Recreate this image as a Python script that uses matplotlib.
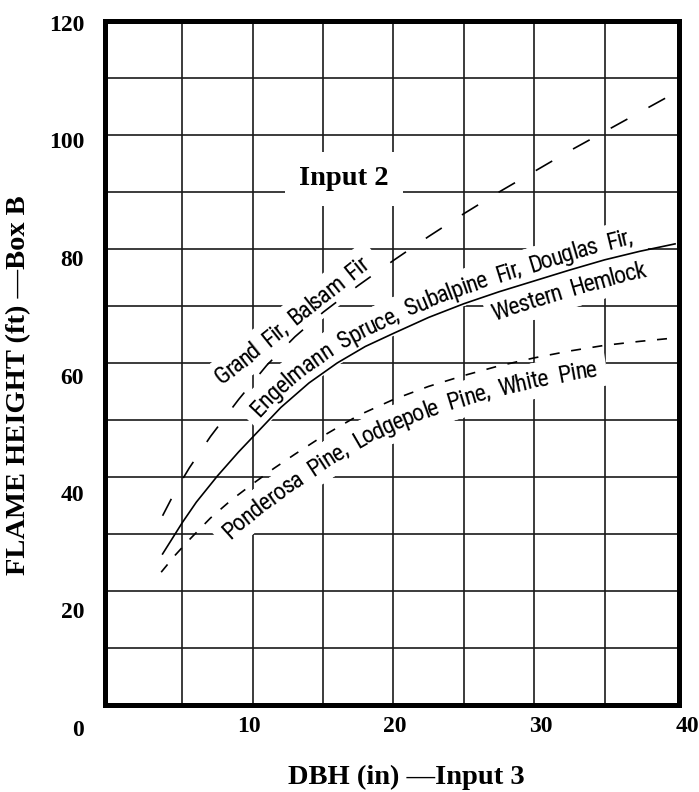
import numpy as np
import matplotlib
matplotlib.use("Agg")
import matplotlib.pyplot as plt
from matplotlib import font_manager as fm
from matplotlib.font_manager import FontProperties
from matplotlib.transforms import ScaledTranslation

# ---------------- data ----------------
dbh_grand = [3.6, 4.5, 5.5, 7, 9, 11, 13, 15, 17.5, 20, 22.5, 25, 27.5, 30, 32.5, 35, 37.5, 40]
flame_grand = [33.2, 37.5, 41.6, 47.1, 53.6, 59.6, 64.6, 68.9, 73.6, 78.0, 82.2, 86.2, 90.0, 93.6, 97.2, 100.6, 104.0, 107.4]

dbh_engel = [3.6, 5, 6, 7.5, 9, 10, 12, 14, 16, 18, 20, 22.5, 25, 27.5, 30, 32.5, 35, 37.5, 40]
flame_engel = [26.5, 32.0, 35.6, 40.2, 44.4, 47.0, 52.2, 56.5, 60.0, 62.9, 65.2, 68.0, 70.4, 72.5, 74.4, 76.3, 78.1, 79.6, 80.9]

dbh_pond = [3.5, 4.5, 5.5, 7, 8.5, 10, 11.5, 13, 15, 17.5, 20, 22.5, 25, 27.5, 30, 32.5, 35, 37.5, 40]
flame_pond = [23.3, 26.3, 29.0, 32.8, 36.0, 38.8, 41.5, 44.0, 47.2, 50.8, 53.6, 55.9, 57.8, 59.5, 60.9, 62.1, 63.1, 63.8, 64.4]

label_grand = "Grand Fir, Balsam Fir"
label_engel = "Engelmann Spruce, Subalpine Fir, Douglas Fir,"
label_engel2 = "Western Hemlock"
label_pond = "Ponderosa Pine, Lodgepole Pine, White Pine"

x_ticks = [10, 20, 30, 40]
x_tick_labels = ["10", "20", "30", "40"]
y_ticks = [0, 20, 40, 60, 80, 100, 120]
y_tick_labels = ["0", "20", "40", "60", "80", "100", "120"]
grid_x = [5, 10, 15, 20, 25, 30, 35]
grid_y = [10, 20, 30, 40, 50, 60, 70, 80, 90, 100, 110]

x_label = "DBH (in) \u2014Input 3"
y_label = "FLAME HEIGHT (ft) \u2014Box B"
box_label = "Input 2"

# ---------------- fonts ----------------
plt.rcParams["lines.scale_dashes"] = False
serif_tick = FontProperties(family=["Liberation Serif", "DejaVu Serif"], weight="bold", size=17)
serif_lab = FontProperties(family=["Liberation Serif", "DejaVu Serif"], weight="bold", size=20.5)
serif_box = FontProperties(family=["Liberation Serif", "DejaVu Serif"], weight="bold", size=20.5)


def _w(f):
    w = f.weight
    if isinstance(w, str):
        w = {"normal": 400, "regular": 400, "book": 400, "medium": 500, "semibold": 600,
             "demibold": 600, "bold": 700, "light": 300}.get(w.lower(), 400)
    return w


def pick_condensed():
    lst = [f for f in fm.fontManager.ttflist if f.style == "normal"]
    pref = ["Roboto Condensed", "Liberation Sans Narrow", "Open Sans Condensed",
            "DejaVu Sans Condensed", "Noto Sans Condensed"]
    for name in pref:
        c = [f for f in lst if f.name == name and 380 <= _w(f) <= 650]
        if c:
            c.sort(key=lambda f: abs(_w(f) - 420))
            return c[0].fname
    c = [f for f in lst if str(f.stretch) in ("condensed", "semi-condensed", "extra-condensed")
         and 380 <= _w(f) <= 650]
    if c:
        c.sort(key=lambda f: abs(_w(f) - 420))
        return c[0].fname
    return fm.findfont(FontProperties(family="DejaVu Sans"))


cond_path = pick_condensed()
CURVE_FS = 17.5
cond_fp = FontProperties(fname=cond_path, size=CURVE_FS)

# ---------------- figure ----------------
W, H = 699, 792
fig = plt.figure(figsize=(W / 100, H / 100), dpi=100)
ax = fig.add_axes([105 / W, 1 - 705 / H, (679 - 105) / W, (705 - 21) / H])
ax.set_xlim(-0.49, 40.28)
ax.set_ylim(0, 120)

for s in ax.spines.values():
    s.set_linewidth(3.6)
    s.set_color("black")
    s.set_zorder(6)

for gx in grid_x:
    ax.axvline(gx, color="#1a1a1a", lw=1.2, zorder=0.5)
for gy in grid_y:
    ax.axhline(gy, color="#1a1a1a", lw=1.2, zorder=0.5)

ax.set_xticks(x_ticks)
ax.set_xticklabels(x_tick_labels)
ax.set_yticks(y_ticks)
ax.set_yticklabels(y_tick_labels)
ax.tick_params(length=0)
ax.tick_params(axis="y", pad=15)
ax.tick_params(axis="x", pad=8)
for lab in ax.get_xticklabels() + ax.get_yticklabels():
    lab.set_fontproperties(serif_tick)
# the printed tick labels drift slightly from the grid in the original
for v, lab in zip(y_ticks, ax.get_yticklabels()):
    off = 2 + (120 - v) * 0.175
    lab.set_transform(lab.get_transform() + ScaledTranslation(0, -off / 100, fig.dpi_scale_trans))
for v, lab in zip(x_ticks, ax.get_xticklabels()):
    off = (249 + (v - 10) * 14.6) - (111.9 + 14.08 * v)
    lab.set_transform(lab.get_transform() + ScaledTranslation(off / 100, 0, fig.dpi_scale_trans))

# curves
ax.plot(dbh_grand, flame_grand, color="black", lw=1.2, ls=(0, (13.7, 17.3)), zorder=4)
ax.plot(dbh_engel, flame_engel, color="black", lw=1.2, zorder=4)
ax.plot(dbh_pond, flame_pond, color="black", lw=1.2, ls=(0, (7.2, 8.4)), zorder=4)

# axis titles
fig.text(19 / W, 1 - 385 / H, y_label, rotation=90, ha="center", va="center", fontproperties=serif_lab)
fig.text(406 / W, 1 - 777 / H, x_label, ha="center", va="center", fontproperties=serif_lab)

# Input 2 box
ax.text(16.5, 92.3, box_label, ha="center", va="center", fontproperties=serif_box, zorder=2,
        bbox=dict(boxstyle="square,pad=0.5", fc="white", ec="none"))

# ---------------- text along a guide line ----------------
ft = fm.get_font(cond_path)
ft.set_size(CURVE_FS, fig.dpi)


def advance(c):
    g = ft.load_char(ord(c))
    return g.linearHoriAdvance / 65536.0


def place_along(gx, gy, text, x0, x1, offset_px, word_extra=5.0):
    P = ax.transData.transform(np.column_stack([gx, gy]))
    d = np.hypot(np.diff(P[:, 0]), np.diff(P[:, 1]))
    s = np.concatenate([[0.0], np.cumsum(d)])
    s0 = np.interp(x0, gx, s)
    s1 = np.interp(x1, gx, s)
    advs = [advance(c) + (word_extra if c == " " else 0.0) for c in text]
    track = (s1 - s0 - sum(advs)) / (len(text) - 1)

    def pt(sv):
        return np.array([np.interp(sv, s, P[:, 0]), np.interp(sv, s, P[:, 1])])

    cur = s0
    inv = ax.transData.inverted()
    for c, a in zip(text, advs):
        sc = cur + a / 2
        p1, p2 = pt(sc - 12), pt(sc + 12)
        ang = np.arctan2(p2[1] - p1[1], p2[0] - p1[0])
        nrm = np.array([-np.sin(ang), np.cos(ang)])
        q = pt(sc) + nrm * offset_px
        xd, yd = inv.transform(q)
        kw = dict(fontproperties=cond_fp, rotation=np.degrees(ang), rotation_mode="anchor",
                  ha="center", va="baseline")
        # white knock-out behind the glyph (drawn beneath every glyph)
        ax.text(xd, yd, "M", color="none", zorder=1.8,
                bbox=dict(boxstyle="square,pad=0.25", fc="white", ec="none"), **kw)
        ax.text(xd, yd, c, color="black", zorder=2.2, **kw)
        cur += a + track


place_along([7.81, 18.33], [56.1, 76.9], label_grand, 7.81, 18.33, 0)
place_along(dbh_engel, flame_engel, label_engel, 10.9, 37.2, 9)
place_along(dbh_engel, flame_engel, label_engel2, 26.6, 37.6, -26)
place_along(dbh_pond, flame_pond, label_pond, 7.0, 34.2, -29)

fig.savefig("out.png", dpi=100)
